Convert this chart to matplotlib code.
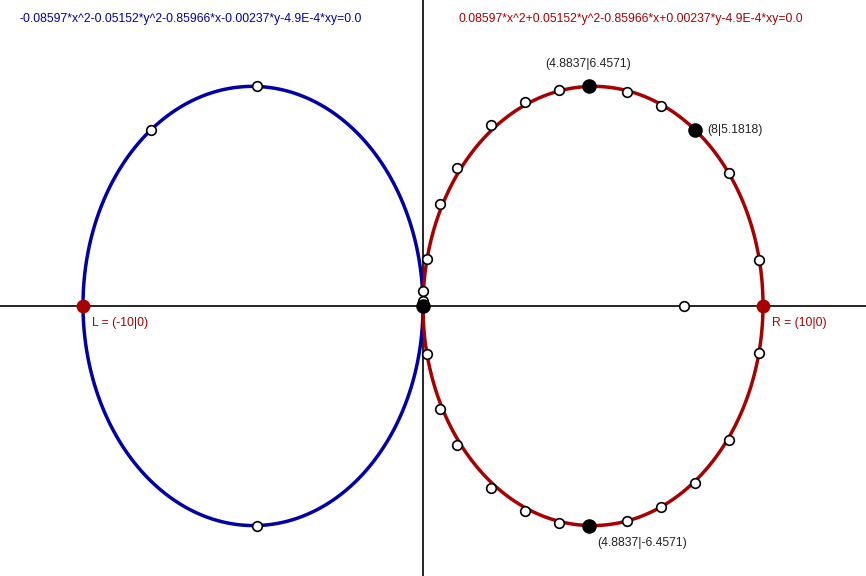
import numpy as np
import matplotlib.pyplot as plt

plt.rcParams['font.family'] = ['Liberation Sans', 'DejaVu Sans']

# conic coefficients: a*x^2 + b*y^2 + c*x + d*y + e*xy = 0
coef_left = [-0.08597, -0.05152, -0.85966, -0.00237, -4.9e-4]
coef_right = [0.08597, 0.05152, -0.85966, 0.00237, -4.9e-4]
eq_left = "-0.08597*x^2-0.05152*y^2-0.85966*x-0.00237*y-4.9E-4*xy=0.0"
eq_right = "0.08597*x^2+0.05152*y^2-0.85966*x+0.00237*y-4.9E-4*xy=0.0"

# points
white_x = [0.0, 0.01, 0.11, 0.51, 1.01, 2.0, 3.01, 4.01, 6.01, 7.01, 9.01, 9.88,
           0.11, 0.51, 1.01, 2.0, 3.01, 4.01, 6.01, 7.01, 8.01, 9.01, 9.88,
           7.68, -4.8837, -8.0, -4.8837]
white_y = [0.15, 0.44, 1.38, 3.0, 4.05, 5.31, 5.99, 6.34, 6.29, 5.87, 3.9, 1.34,
           -1.41, -3.04, -4.09, -5.35, -6.03, -6.38, -6.32, -5.92, -5.21, -3.94, -1.39,
           0.0, 6.4571, 5.1818, -6.4571]
black_x = [4.8837, 8.0, 4.8837, 0.0]
black_y = [6.4571, 5.1818, -6.4571, 0.0]
black_lbl = ["(4.8837|6.4571)", "(8|5.1818)", "(4.8837|-6.4571)", None]
red_x = [-10, 10]
red_y = [0, 0]
red_lbl = ["L = (-10|0)", "R = (10|0)"]

blue = "#0000a6"
red = "#a80000"

fig = plt.figure(figsize=(8.66, 5.76), dpi=100)
ax = fig.add_axes([0, 0, 1, 1])
ax.set_xlim(-423 / 34, 443 / 34)
ax.set_ylim(-270 / 34, 306 / 34)
ax.set_aspect('auto')
ax.axis('off')

ax.axhline(0, color='black', lw=1.2, zorder=1)
ax.axvline(0, color='black', lw=1.2, zorder=1)

gx, gy = np.meshgrid(np.linspace(-12.5, 13.1, 1200), np.linspace(-8, 9, 900))
for cf, col in [(coef_left, blue), (coef_right, red)]:
    a, b, c, d, e = cf
    z = a * gx**2 + b * gy**2 + c * gx + d * gy + e * gx * gy
    ax.contour(gx, gy, z, levels=[0], colors=[col], linewidths=2.5, zorder=2)

ax.scatter(white_x, white_y, s=48, facecolor='white', edgecolor='black', linewidth=1.2, zorder=4)
ax.scatter(black_x, black_y, s=90, color='black', zorder=5)
ax.scatter(red_x, red_y, s=80, color=red, zorder=5)

ax.text(0.023, 0.967, eq_left, transform=ax.transAxes, color=blue, fontsize=8.75, va='center')
ax.text(0.530, 0.967, eq_right, transform=ax.transAxes, color=red, fontsize=8.75, va='center')

offsets = [(-1.3, 0.65), (0.35, -0.02), (0.25, -0.5)]
for x, y, t, (dx, dy) in zip(black_x, black_y, black_lbl, offsets):
    if t:
        ax.text(x + dx, y + dy, t, color='#222222', fontsize=8.75, va='center')
for x, y, t in zip(red_x, red_y, red_lbl):
    ax.text(x + 0.25, y - 0.5, t, color=red, fontsize=8.75, va='center')

fig.savefig("out.png", dpi=100)
